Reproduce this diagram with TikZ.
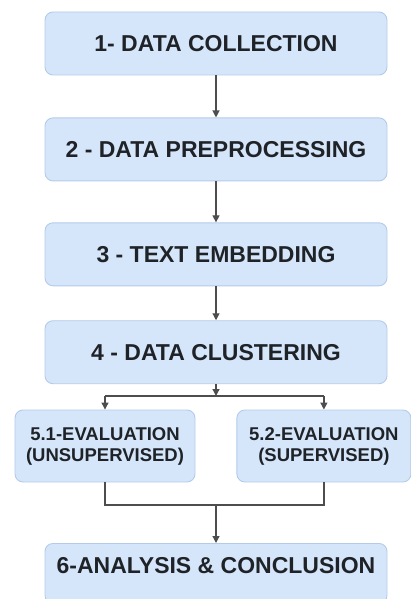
\documentclass[tikz,border=0pt]{standalone}
\usepackage{fontspec}
\setmainfont{Liberation Sans}
\usetikzlibrary{arrows.meta, positioning}
\definecolor{boxfill}{HTML}{D6E6FA}
\definecolor{boxline}{HTML}{B3CBE8}
\definecolor{txt}{HTML}{1F2328}
\definecolor{wirecol}{HTML}{4D4D4D}
\tikzset{
    block_step/.style={rectangle, draw=boxline, rounded corners=8pt, fill=boxfill, line width=0.9pt, minimum width=342pt, minimum height=63pt, inner sep=0pt, text=txt, font=\fontsize{23}{26}\selectfont\bfseries},
    block_eval/.style={block_step, minimum height=72pt, align=center, font=\fontsize{18.5}{21}\selectfont\bfseries},
    arrow/.style={-{Triangle[length=7pt, width=7pt]}, line width=1.2pt, draw=wirecol},
    wire/.style={line width=1.2pt, draw=wirecol}
}

\begin{document}
\begin{tikzpicture}[x=1pt, y=-1pt, node distance=42pt and 41pt]
			\useasboundingbox (0,0) rectangle (410,599);
			\node (col) [block_step] at (216,43.5) {1- DATA COLLECTION};
			\node (prep) [block_step, below=of col] {2 - DATA PREPROCESSING};
			\node (emb) [block_step, below=41pt of prep] {3 - TEXT EMBEDDING};
			\node (clus) [block_step, below=34pt of emb] {4 - DATA CLUSTERING};
			\node (evalu) [block_eval, minimum width=180pt] at (105,446) {5.1-EVALUATION\\(UNSUPERVISED)};
			\node (evals) [block_eval, minimum width=174pt, right=41pt of evalu] {5.2-EVALUATION\\(SUPERVISED)};
			\node (concl) [block_step, anchor=north, minimum height=0pt, text height=30.5pt, text depth=29.5pt] at (216,543) {6-ANALYSIS \& CONCLUSION};
			\coordinate (split) at (216,396);
			\coordinate (merge) at (216,505);
			
			\draw [arrow] (col) -- (prep);
			\draw [arrow] (prep) -- (emb);
			\draw [arrow] (emb) -- (clus);
			\draw [arrow] (clus) -- (split);
			\draw [wire] (evalu.north |- split) -- (evals.north |- split);
			\draw [arrow] (evalu.north |- split) -- (evalu);
			\draw [arrow] (evals.north |- split) -- (evals);
			\draw [wire] (evalu) |- (merge) -| (evals);
			\draw [arrow] (merge) -- (concl);
		\end{tikzpicture}
\end{document}
